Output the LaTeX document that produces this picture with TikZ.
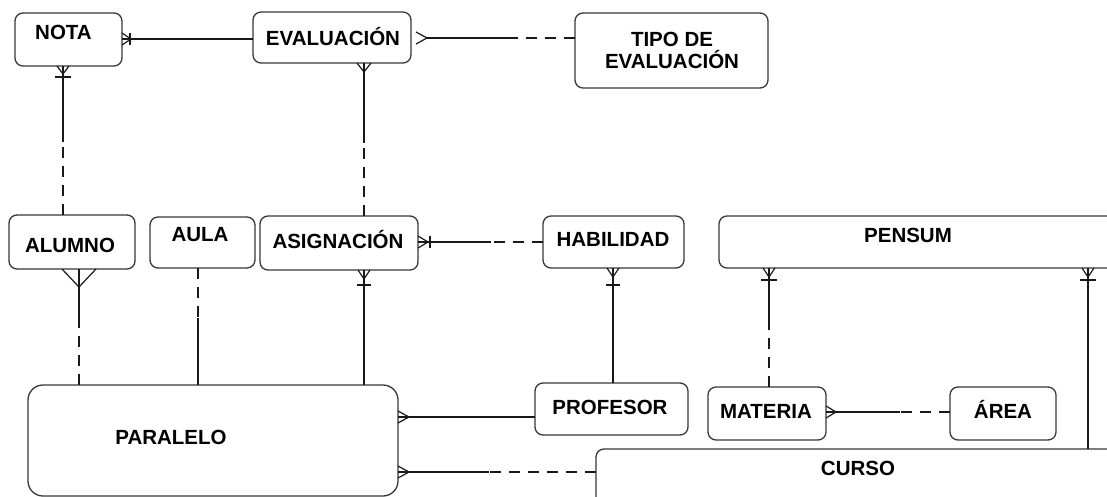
\documentclass[tikz,border=0pt]{standalone}
\usepackage{fontspec}
\setmainfont{Liberation Sans}
\usetikzlibrary{calc}
\begin{document}
\begin{tikzpicture}[x=1pt,y=-1pt,
  ent/.style={draw=black!78, line width=1.3pt, rounded corners=8pt, fill=white, inner sep=0pt, outer sep=0pt},
  lbl/.style={font=\fontsize{20.5}{22}\selectfont\bfseries, anchor=base, inner sep=0pt},
  conn/.style={line width=1.2pt, draw=black!90},
  dsh/.style={conn, dash pattern=on 11pt off 8pt},
  pics/many/.style args={#1/#2}{code={\draw[conn] (0,#1) -- (#2,0) -- (0,-#1);}},
  pics/one/.style args={#1/#2}{code={\draw[conn] (#2,#1) -- (#2,-#1);}},
]
\fill[white] (0,0) rectangle (1107,497);
\useasboundingbox (0,0) rectangle (1107,497);

% entities
\node[ent, minimum width=107pt, minimum height=53pt] (nota) at (68.5,39.5) {};
\node[ent, minimum width=158pt, minimum height=51pt] (eval) at (332,37.5) {};
\node[ent, minimum width=193pt, minimum height=75pt] (tipo) at (671.5,50.5) {};
\node[ent, minimum width=126pt, minimum height=54pt] (alumno) at (72,242) {};
\node[ent, minimum width=105pt, minimum height=51pt] (aula) at (202.5,242.5) {};
\node[ent, minimum width=158pt, minimum height=54pt] (asig) at (339,243) {};
\node[ent, minimum width=141pt, minimum height=52pt] (habil) at (613.5,242) {};
\node[ent, minimum width=411pt, minimum height=52pt] (pensum) at (924.5,242) {};
\node[ent, rounded corners=15pt, minimum width=370pt, minimum height=111pt] (paralelo) at (213,440.5) {};
\node[ent, minimum width=153pt, minimum height=52pt] (profesor) at (611.5,409) {};
\node[ent, minimum width=118pt, minimum height=53pt] (materia) at (767,413.5) {};
\node[ent, minimum width=106pt, minimum height=53pt] (area) at (1003,413.5) {};
\node[ent, minimum width=534pt, minimum height=81pt] (curso) at (863,489.5) {};

% texts
\node[lbl] (notaT) at (63.5,39.3) {NOTA};
\node[lbl] (evalT) at (333,45.8) {EVALUACIÓN};
\node[lbl] (tipoT1) at (672,46.3) {TIPO DE};
\node[lbl] (tipoT2) at (672,68.8) {EVALUACIÓN};
\node[lbl] (alumnoT) at (70,252.3) {ALUMNO};
\node[lbl] (aulaT) at (200,241.3) {AULA};
\node[lbl] (asigT) at (338,248.3) {ASIGNACIÓN};
\node[lbl] (habilT) at (613,246.3) {HABILIDAD};
\node[lbl] (pensumT) at (908,242.3) {PENSUM};
\node[lbl] (paraleloT) at (171,444.3) {PARALELO};
\node[lbl] (profesorT) at (610,414.3) {PROFESOR};
\node[lbl] (materiaT) at (766,418.3) {MATERIA};
\node[lbl] (areaT) at (1003,418.3) {ÁREA};
\node[lbl] (cursoT) at (858,475.3) {CURSO};

% connector guide coordinates
\coordinate (xa) at (63,0);
\coordinate (xb) at (364,0);
\coordinate (xc) at (79,0);
\coordinate (xd) at (198,0);
\coordinate (xe) at (613,0);
\coordinate (xf) at (769,0);
\coordinate (xg) at (1088,0);
\coordinate (ya) at (0,39);
\coordinate (yb) at (0,38);
\coordinate (yc) at (0,242);
\coordinate (yd) at (0,417);
\coordinate (ye) at (0,472);
\coordinate (yf) at (0,412);

% 1 nota - evaluacion
\draw[conn] (nota.east |- ya) -- (eval.west |- ya);
\pic at (nota.east |- ya) {many=6/9};
\pic at (nota.east |- ya) {one=6/8};

% 2 evaluacion - tipo
\coordinate (s2) at ($(eval.east |- yb)!0.59!(tipo.west |- yb)$);
\draw[conn] ($(eval.east |- yb)+(16,0)$) -- (s2);
\draw[dsh] (tipo.west |- yb) -- (s2);
\pic at ($(eval.east |- yb)+(5,0)$) {many=6/11};

% 3 nota - alumno
\coordinate (s3) at ($(nota.south -| xa)!0.51!(alumno.north -| xa)$);
\draw[conn] (nota.south -| xa) -- (s3);
\draw[dsh] (alumno.north -| xa) -- (s3);
\pic[rotate=-90] at (nota.south -| xa) {many=6/8};
\pic[rotate=-90] at (nota.south -| xa) {one=8/11};

% 4 evaluacion - asignacion
\coordinate (s4) at ($(eval.south -| xb)!0.52!(asig.north -| xb)$);
\draw[conn] (eval.south -| xb) -- (s4);
\draw[dsh] (asig.north -| xb) -- (s4);
\pic[rotate=-90] at (eval.south -| xb) {many=7/9};

% 5 alumno - paralelo
\coordinate (s5) at ($(alumno.south -| xc)!0.44!(paralelo.north -| xc)$);
\draw[conn] (alumno.south -| xc) -- (s5);
\draw[dsh] (paralelo.north -| xc) -- (s5);
\pic[rotate=-90] at (alumno.south -| xc) {many=17/18};

% 6 aula - paralelo
\coordinate (s6) at ($(aula.south -| xd)!0.43!(paralelo.north -| xd)$);
\draw[dsh] (aula.south -| xd) -- (s6);
\draw[conn] (paralelo.north -| xd) -- (s6);

% 7 asignacion - paralelo
\draw[conn] (asig.south -| xb) -- (paralelo.north -| xb);
\pic[rotate=-90] at (asig.south -| xb) {many=6/9};
\pic[rotate=-90] at (asig.south -| xb) {one=7/15};

% 8 asignacion - habilidad
\coordinate (s8) at ($(asig.east |- yc)!0.58!(habil.west |- yc)$);
\draw[conn] (asig.east |- yc) -- (s8);
\draw[dsh] (habil.west |- yc) -- (s8);
\pic at (asig.east |- yc) {many=6/10};
\pic at (asig.east |- yc) {one=6/12};

% 9 habilidad - profesor
\draw[conn] (habil.south -| xe) -- (profesor.north -| xe);
\pic[rotate=-90] at (habil.south -| xe) {many=6/9};
\pic[rotate=-90] at (habil.south -| xe) {one=7/17};

% 10 pensum - materia
\coordinate (s10) at ($(pensum.south -| xf)!0.5!(materia.north -| xf)$);
\draw[conn] (pensum.south -| xf) -- (s10);
\draw[dsh] (materia.north -| xf) -- (s10);
\pic[rotate=-90] at (pensum.south -| xf) {many=6/9};
\pic[rotate=-90] at (pensum.south -| xf) {one=8/12};

% 11 pensum - curso
\draw[conn] (pensum.south -| xg) -- (curso.north -| xg);
\pic[rotate=-90] at (pensum.south -| xg) {many=6/9};
\pic[rotate=-90] at (pensum.south -| xg) {one=8/12};

% 12 paralelo - profesor
\draw[conn] (paralelo.east |- yd) -- (profesor.west |- yd);
\pic at (paralelo.east |- yd) {many=6/11};

% 13 paralelo - curso
\coordinate (s13) at ($(paralelo.east |- ye)!0.46!(curso.west |- ye)$);
\draw[conn] (paralelo.east |- ye) -- (s13);
\draw[dsh] (curso.west |- ye) -- (s13);
\pic at (paralelo.east |- ye) {many=6/11};

% 14 materia - area
\coordinate (s14) at ($(materia.east |- yf)!0.6!(area.west |- yf)$);
\draw[conn] (materia.east |- yf) -- (s14);
\draw[dsh] (area.west |- yf) -- (s14);
\pic at (materia.east |- yf) {many=6/10};

\end{tikzpicture}
\end{document}
